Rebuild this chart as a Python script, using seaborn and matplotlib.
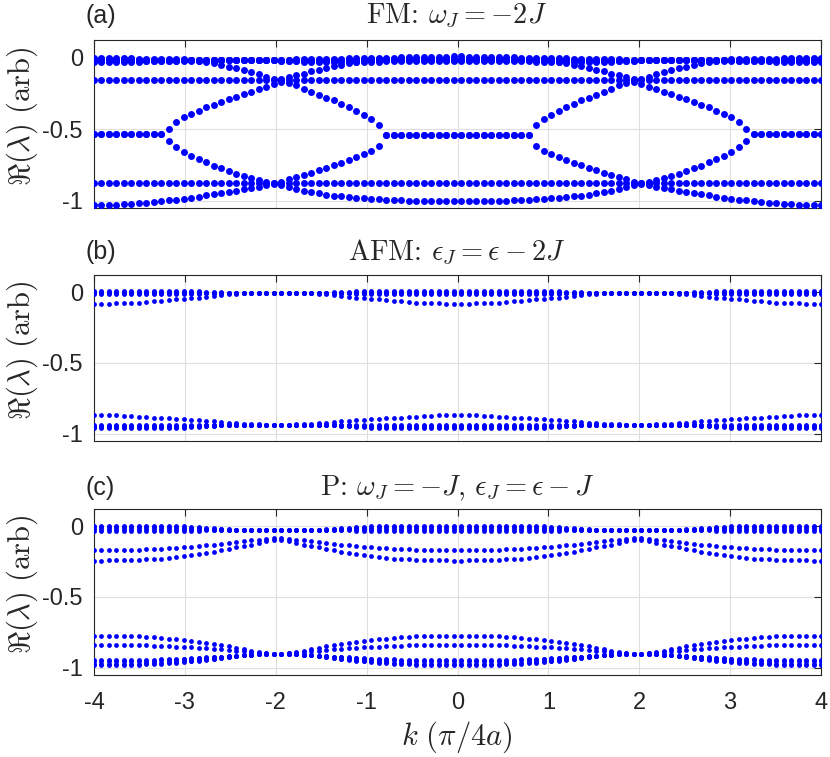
import numpy as np
import pandas as pd
import seaborn as sns
import matplotlib
matplotlib.use("Agg")
import matplotlib.pyplot as plt

sns.set_style("white")
plt.rcParams["font.family"] = ["Liberation Sans", "DejaVu Sans"]
plt.rcParams["mathtext.fontset"] = "cm"
plt.rcParams["axes.unicode_minus"] = False

# k grid of the eigenvalue sweep (98 samples)
k = np.linspace(-4, 4, 98)

# values for k < 0 (49 dots), the figure is mirror symmetric in k
# (a) FM
a_top1 = [-0.003, -0.004, -0.005, -0.006, -0.007, -0.008, -0.009, -0.010, -0.011, -0.012, -0.013, -0.014,
          -0.015, -0.017, -0.018, -0.019] + [-0.020] * 9 + \
         [-0.017, -0.016, -0.015, -0.014, -0.013, -0.012, -0.011, -0.010, -0.009, -0.008, -0.007, -0.006,
          -0.005, -0.004, -0.003, -0.002, -0.001, 0.000, 0.001, 0.002, 0.003, 0.004, 0.005, 0.006]
a_top2 = [-0.013, -0.013, -0.014, -0.014, -0.015, -0.015, -0.016, -0.016, -0.017, -0.017, -0.018, -0.018,
          -0.019, -0.019, -0.020, -0.020] + [-0.021] * 9 + \
         [-0.021, -0.021, -0.020, -0.020, -0.019, -0.019, -0.018, -0.018, -0.017, -0.017, -0.016, -0.016,
          -0.015, -0.015, -0.014, -0.014, -0.013, -0.013, -0.012, -0.012, -0.011, -0.011, -0.010, -0.010]
a_top3 = [-0.025, -0.025, -0.025, -0.025, -0.024, -0.024, -0.024, -0.024, -0.023, -0.023, -0.023, -0.023,
          -0.022, -0.022, -0.022, -0.022] + [-0.021] * 9 + \
         [-0.024, -0.024, -0.024, -0.024, -0.023, -0.023, -0.023, -0.023, -0.022, -0.022, -0.022, -0.022,
          -0.021, -0.021, -0.021, -0.021, -0.020, -0.020, -0.020, -0.020, -0.019, -0.019, -0.018, -0.018]
a_top4 = [-0.036, -0.035, -0.034, -0.033, -0.032, -0.031, -0.030, -0.029, -0.028, -0.027, -0.026, -0.025,
          -0.024, -0.024, -0.023, -0.023] + [-0.022] * 9 + \
         [-0.028, -0.029, -0.029, -0.030, -0.030, -0.030, -0.030, -0.030, -0.030, -0.030, -0.030, -0.030,
          -0.030, -0.030, -0.029, -0.029, -0.029, -0.029, -0.028, -0.028, -0.028, -0.028, -0.028, -0.028]
a_dip = [-0.022] * 14 + \
        [-0.025, -0.030, -0.040, -0.052, -0.065, -0.078, -0.090, -0.103, -0.117, -0.135, -0.155, -0.150,
         -0.138, -0.126, -0.114, -0.098, -0.086, -0.075, -0.063, -0.051, -0.040, -0.030, -0.025] + [-0.022] * 12
a_flat1 = [-0.161] * 49
a_upper = [-0.534] * 10 + \
          [-0.499, -0.452, -0.417, -0.394, -0.371, -0.350, -0.331, -0.312, -0.294, -0.275, -0.259, -0.242,
           -0.224, -0.205, -0.189, -0.172, -0.177, -0.196, -0.219, -0.242, -0.261, -0.282, -0.301, -0.324,
           -0.348, -0.375, -0.401, -0.429, -0.469] + [-0.545] * 10
a_lower = [-0.534] * 10 + \
          [-0.580, -0.622, -0.657, -0.685, -0.709, -0.732, -0.755, -0.774, -0.795, -0.814, -0.830, -0.844,
           -0.856, -0.867, -0.876, -0.870, -0.850, -0.835, -0.820, -0.805, -0.787, -0.770, -0.752, -0.735,
           -0.717, -0.697, -0.675, -0.650, -0.615] + [-0.545] * 10
a_flat2 = [-0.876] * 49
a_low = [-1.030, -1.030, -1.028, -1.026, -1.024, -1.021, -1.016, -1.012, -1.007, -1.002,
         -0.997, -0.991, -0.986, -0.977, -0.970, -0.961, -0.953, -0.944, -0.937, -0.930,
         -0.921, -0.912, -0.902, -0.893, -0.883, -0.890, -0.905, -0.920, -0.932, -0.942,
         -0.949, -0.956, -0.963, -0.968, -0.974, -0.979, -0.983, -0.987, -0.990, -0.993,
         -0.995, -0.997, -0.998, -0.999, -1.000, -1.001, -1.002, -1.002, -1.002]

# (b) AFM and (c) P: bands are also symmetric about k = -2, read for -4 <= k <= -2 (25 dots)
b_top1 = [0.007] * 12 + [0.006, 0.005, 0.004, 0.002, 0.000, -0.002, -0.004, -0.006, -0.007] + [-0.007] * 4
b_top2 = [0.000] * 12 + [-0.001, -0.002, -0.003, -0.004, -0.005, -0.006, -0.006, -0.007, -0.007] + [-0.007] * 4
b_top3 = [-0.007] * 25
b_top4 = [-0.014] * 12 + [-0.013, -0.012, -0.011, -0.010, -0.009, -0.008, -0.008, -0.007, -0.007] + [-0.007] * 4
b_side = [-0.082, -0.082, -0.082, -0.080, -0.078, -0.078, -0.075, -0.071, -0.066, -0.061, -0.054, -0.052,
          -0.047, -0.042, -0.040, -0.035, -0.028, -0.021, -0.016, -0.012, -0.007, -0.007, -0.007, -0.007, -0.007]
b_low = [-0.868, -0.868, -0.869, -0.870, -0.873, -0.875, -0.878, -0.880, -0.885, -0.887, -0.890, -0.893,
         -0.897, -0.900, -0.904, -0.907, -0.911, -0.915, -0.920, -0.924, -0.927, -0.930, -0.932, -0.935, -0.937]
b_bot1 = [-0.937] * 25
b_bot2 = [-0.943] * 12 + [-0.942, -0.942, -0.941, -0.940, -0.939, -0.938, -0.938, -0.937, -0.937] + [-0.937] * 4
b_bot3 = [-0.950] * 12 + [-0.948, -0.946, -0.945, -0.943, -0.941, -0.939, -0.938, -0.937, -0.937] + [-0.937] * 4
b_bot4 = [-0.957] * 12 + [-0.955, -0.952, -0.949, -0.946, -0.943, -0.940, -0.938, -0.937, -0.937] + [-0.937] * 4

c_top1 = [0.003] * 12 + [0.000, -0.004, -0.008, -0.012, -0.016, -0.020, -0.024, -0.027] + [-0.027] * 5
c_top2 = [-0.010] * 12 + [-0.012, -0.014, -0.016, -0.018, -0.020, -0.022, -0.025, -0.027] + [-0.027] * 5
c_top3 = [-0.022] * 12 + [-0.023, -0.023, -0.024, -0.024, -0.025, -0.026, -0.026, -0.027] + [-0.027] * 5
c_top4 = [-0.034] * 12 + [-0.034, -0.033, -0.032, -0.031, -0.030, -0.029, -0.028, -0.027] + [-0.027] * 5
c_mid1 = [-0.171, -0.171, -0.170, -0.169, -0.168, -0.168, -0.167, -0.165, -0.162, -0.160, -0.157, -0.154,
          -0.150, -0.146, -0.141, -0.136, -0.131, -0.126, -0.120, -0.114, -0.107, -0.101, -0.095, -0.090, -0.085]
c_mid2 = [-0.244, -0.243, -0.242, -0.241, -0.240, -0.238, -0.237, -0.235, -0.232, -0.230, -0.225, -0.219,
          -0.213, -0.206, -0.198, -0.190, -0.180, -0.170, -0.160, -0.151, -0.141, -0.132, -0.120, -0.108, -0.097]
c_low1 = [-0.773, -0.773, -0.773, -0.773, -0.774, -0.776, -0.777, -0.781, -0.785, -0.789, -0.794, -0.798,
          -0.803, -0.810, -0.817, -0.824, -0.831, -0.839, -0.847, -0.857, -0.868, -0.878, -0.886, -0.894, -0.901]
c_low2 = [-0.838, -0.838, -0.838, -0.838, -0.839, -0.839, -0.840, -0.842, -0.843, -0.845, -0.847, -0.850,
          -0.852, -0.855, -0.858, -0.861, -0.865, -0.869, -0.873, -0.878, -0.882, -0.887, -0.892, -0.896, -0.901]
c_bot1 = [-0.945, -0.945, -0.945, -0.945, -0.944, -0.944, -0.943, -0.942, -0.941, -0.940, -0.938, -0.936,
          -0.934, -0.932, -0.929, -0.926, -0.923, -0.920, -0.917, -0.914, -0.911, -0.908, -0.905, -0.903, -0.901]
c_bot2 = [-0.952, -0.952, -0.952, -0.952, -0.951, -0.951, -0.950, -0.949, -0.948, -0.946, -0.944, -0.942,
          -0.939, -0.936, -0.933, -0.929, -0.925, -0.921, -0.917, -0.913, -0.910, -0.907, -0.904, -0.902, -0.901]
c_bot3 = [-0.972, -0.972, -0.972, -0.972, -0.971, -0.970, -0.969, -0.968, -0.966, -0.964, -0.961, -0.958,
          -0.954, -0.950, -0.945, -0.940, -0.934, -0.928, -0.922, -0.916, -0.911, -0.907, -0.904, -0.902, -0.901]
c_bot4 = [-0.980, -0.980, -0.980, -0.979, -0.979, -0.978, -0.977, -0.975, -0.973, -0.970, -0.967, -0.963,
          -0.959, -0.954, -0.948, -0.942, -0.936, -0.930, -0.924, -0.918, -0.912, -0.908, -0.905, -0.902, -0.901]

titles = [r"FM: $\omega_J = -2J$",
          r"AFM: $\epsilon_J = \epsilon - 2J$",
          r"P: $\omega_J = -J$, $\epsilon_J = \epsilon - J$"]
letters = ["(a)", "(b)", "(c)"]


def mirror(half):
    return list(half) + list(half)[::-1]


def about_m2(q):
    return q + q[1:][::-1]


def frame(halves):
    return pd.concat([pd.DataFrame({"k": k, "val": mirror(h)}) for h in halves], ignore_index=True)


panels = [
    frame([a_top1, a_top2, a_top3, a_top4, a_dip, a_flat1, a_upper, a_lower, a_flat2, a_low]),
    frame([about_m2(b) for b in [b_top1, b_top2, b_top3, b_top4, b_side, b_low, b_bot1, b_bot2, b_bot3, b_bot4]]),
    frame([about_m2(c) for c in [c_top1, c_top2, c_top3, c_top4, c_mid1, c_mid2, c_low1, c_low2,
                                 c_bot1, c_bot2, c_bot3, c_bot4]]),
]
sizes = [25, 12, 12]

fig = plt.figure(figsize=(8.3, 7.57), dpi=100)
W, H = 830, 757
boxes = [(40, 208), (275, 441), (509, 675)]
title_y = [16, 252, 488]
ink = "#262626"

for i, df in enumerate(panels):
    top, bot = boxes[i]
    ax = fig.add_axes([94 / W, 1 - bot / H, (821 - 94) / W, (bot - top) / H])
    sns.scatterplot(data=df, x="k", y="val", color="#0000ff", s=sizes[i], linewidth=0,
                    legend=False, ax=ax, zorder=3)
    ax.set_xlim(-4, 4)
    ax.set_ylim(-1.05, 0.12)
    ax.set_xticks(range(-4, 5))
    ax.set_yticks([-1, -0.5, 0])
    ax.set_yticklabels(["-1", "-0.5", "0"])
    if i < 2:
        ax.set_xticklabels([])
    ax.grid(True, color="#dfdfdf", linewidth=0.8)
    for sp in ax.spines.values():
        sp.set_color(ink)
        sp.set_linewidth(0.8)
    ax.tick_params(direction="in", length=5, width=0.8, color=ink, labelcolor=ink,
                   labelsize=17, top=True, right=True, pad=8)
    ax.tick_params(axis="x", pad=12)
    ax.set_xlabel("")
    ax.set_ylabel("")
    fig.text(22 / W, 1 - ((top + bot) / 2 - 8) / H, r"$\Re(\lambda)\ (\mathrm{arb})$", fontsize=22,
             rotation=90, ha="center", va="center", color=ink)
    fig.text(85 / W, 1 - title_y[i] / H, letters[i], fontsize=18, ha="left", va="center", color=ink)
    fig.text(457 / W, 1 - title_y[i] / H, titles[i], fontsize=20.5, family="cmr10",
             ha="center", va="center", color=ink)

fig.text(457 / W, 1 - 737 / H, r"$k\ (\pi/4a)$", fontsize=22, ha="center", va="center", color=ink)

fig.savefig("out.png", dpi=100)
